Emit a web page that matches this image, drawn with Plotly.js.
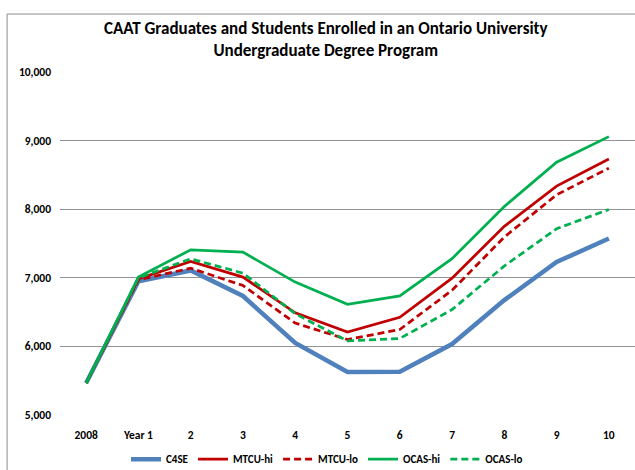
<!DOCTYPE html>
<html>
<head>
<meta charset="utf-8">
<script src="https://cdn.plot.ly/plotly-3.0.1.min.js"></script>
<style>html,body{margin:0;padding:0;background:#fff;}#chart{width:635px;height:470px;}</style>
</head>
<body>
<div id="chart"></div>
<script>
const categories = ["2008", "Year 1", "2", "3", "4", "5", "6", "7", "8", "9", "10"];
const c4se    = [5466, 6950, 7107, 6735, 6050, 5628, 5630, 6035, 6675, 7230, 7572];
const mtcuHi  = [5466, 6985, 7238, 7010, 6490, 6210, 6425, 6995, 7750, 8336, 8733];
const mtcuLo  = [5466, 6970, 7140, 6888, 6340, 6100, 6246, 6818, 7594, 8210, 8598];
const ocasHi  = [5466, 7010, 7408, 7374, 6937, 6613, 6736, 7279, 8040, 8685, 9058];
const ocasLo  = [5466, 7000, 7277, 7068, 6476, 6080, 6115, 6537, 7172, 7715, 7996];

const font = "Carlito, 'Liberation Sans Narrow', 'Liberation Sans', Arial, sans-serif";
function tr(name, y, color, width, dash) {
  return {type: "scatter", mode: "lines", name: name, x: categories, y: y,
          line: {color: color, width: width, dash: dash}, hoverinfo: "skip"};
}
const data = [
  tr("C4SE", c4se, "#4F81BD", 4.5, "solid"),
  tr("MTCU-hi", mtcuHi, "#C00000", 2.75, "solid"),
  tr("MTCU-lo", mtcuLo, "#C00000", 2.75, "7px,4px"),
  tr("OCAS-hi", ocasHi, "#00B050", 2.75, "solid"),
  tr("OCAS-lo", ocasLo, "#00B050", 2.75, "7px,4px")
];
const layout = {
  width: 635, height: 470,
  margin: {l: 60, r: 0, t: 72, b: 55},
  paper_bgcolor: "#fff", plot_bgcolor: "#fff",
  title: {text: "<b>CAAT Graduates and Students Enrolled in an Ontario University<br>Undergraduate Degree Program</b>",
          font: {family: font, size: 17, color: "#000"}, x: 0.513, xanchor: "center", y: 0.928, yanchor: "top"},
  xaxis: {type: "category", range: [-0.5, 10.5], showgrid: false, zeroline: false, showline: false, ticks: "",
          tickfont: {family: font, size: 11.5, color: "#000", weight: "bold"}, ticklabelstandoff: 11, fixedrange: true},
  yaxis: {range: [5000, 10000], tickvals: [5000, 6000, 7000, 8000, 9000, 10000], tickformat: ",",
          showgrid: true, gridcolor: "#939393", gridwidth: 1, zeroline: false, showline: false, ticks: "",
          tickfont: {family: font, size: 11.5, color: "#000", weight: "bold"}, ticklabelstandoff: 8, fixedrange: true},
  showlegend: true,
  legend: {orientation: "h", x: 0.515, xref: "container", xanchor: "center", y: 0.023, yref: "container", yanchor: "middle",
           font: {family: font, size: 11, color: "#000", weight: "bold"}, itemwidth: 30, tracegroupgap: 0},
  shapes: [{type: "rect", xref: "paper", yref: "paper", x0: -0.092, x1: 1.1, y0: -0.3, y1: 1.169,
            line: {color: "#8c8c8c", width: 1}, fillcolor: "rgba(0,0,0,0)"}]
};
Plotly.newPlot("chart", data, layout, {displayModeBar: false, staticPlot: true});
</script>
</body>
</html>
